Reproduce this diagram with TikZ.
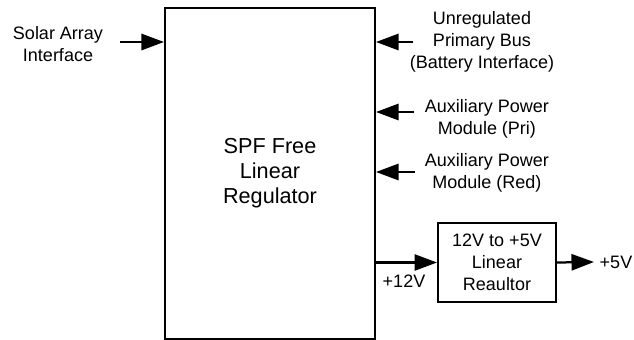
\documentclass[tikz,border=0pt]{standalone}
\usepackage{fontspec}
\setmainfont{Liberation Sans}
\usetikzlibrary{arrows.meta, positioning}

\begin{document}
\begin{tikzpicture}[x=0.025cm, y=-0.025cm,
        block/.style={draw, line width=1.4pt, align=center,
                      font=\fontsize{15.4}{17.7}\selectfont},
        lbl/.style={align=center, inner sep=1pt,
                    font=\fontsize{12.8}{15.6}\selectfont},
        arr/.style={-{Triangle[length=16pt, width=11.5pt]}, line width=1.6pt}
      ]
        \useasboundingbox (0,0) rectangle (634,340);
        \node[block, minimum width=5.25cm, minimum height=8.25cm] (spf) at (270,173.5)
            {SPF Free\\Linear\\Regulator};
        \node[block, minimum width=2.95cm, minimum height=1.975cm,
              font=\fontsize{12.8}{15.6}\selectfont] (lin) at (497,262.5)
            {12V to +5V\\Linear\\Reaultor};
        % inputs
        \node[lbl] (solar) at (58,44) {Solar Array\\Interface};
        \node[lbl] (bus) at (482,42) {Unregulated\\Primary Bus\\(Battery Interface)};
        \node[lbl] (auxpri) at (487,119) {Auxiliary Power\\Module (Pri)};
        \node[lbl] (auxred) at (487,173) {Auxiliary Power\\Module (Red)};
        \coordinate (solarin) at (120,42);
        \coordinate (busin) at (413,42);
        \coordinate (auxpriin) at (414,112);
        \coordinate (auxredin) at (415,172);
        \draw[arr] (solarin) -- (spf.west |- solarin);
        \draw[arr] (busin) -- (spf.east |- busin);
        \draw[arr] (auxpriin) -- (spf.east |- auxpriin);
        \draw[arr] (auxredin) -- (spf.east |- auxredin);
        % outputs
        \node[lbl] (v12) at (404,281) {+12V};
        \node[lbl] (v5) at (616,262) {+5V};
        \coordinate (v5out) at (594,262);
        \draw[arr] (spf.east |- lin) -- (lin.west);
        \draw[arr] (lin.east) -- (v5out);
      \end{tikzpicture}
\end{document}
